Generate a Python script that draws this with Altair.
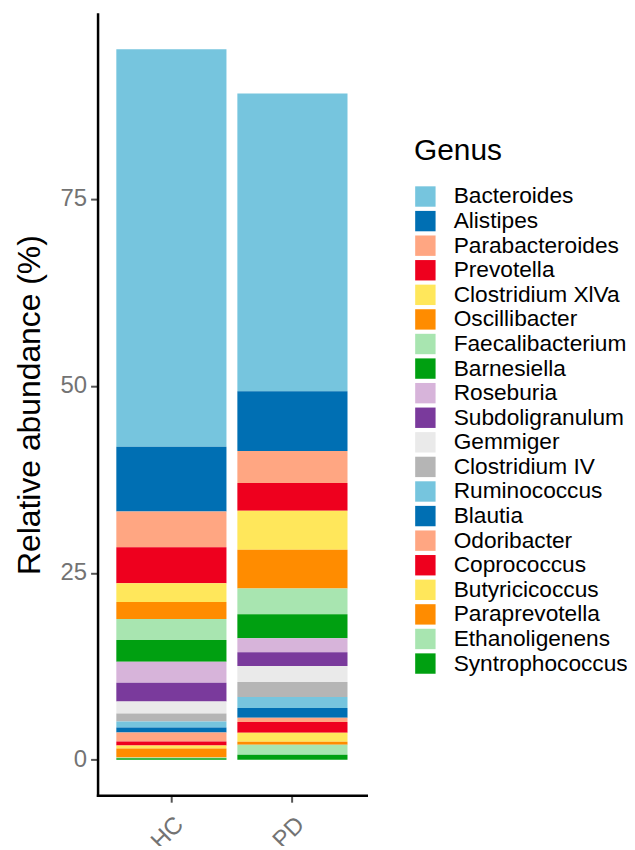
import altair as alt
import pandas as pd

genera = ["Bacteroides", "Alistipes", "Parabacteroides", "Prevotella", "Clostridium XlVa",
          "Oscillibacter", "Faecalibacterium", "Barnesiella", "Roseburia", "Subdoligranulum",
          "Gemmiger", "Clostridium IV", "Ruminococcus", "Blautia", "Odoribacter",
          "Coprococcus", "Butyricicoccus", "Paraprevotella", "Ethanoligenens", "Syntrophococcus"]

hc_values = [53.17, 8.66, 4.80, 4.79, 2.53, 2.27, 2.80, 2.93, 2.79, 2.53,
             1.60, 1.07, 0.80, 0.66, 1.20, 0.54, 0.39, 1.20, 0.13, 0.18]
pd_values = [39.81, 7.99, 4.27, 3.73, 5.20, 5.20, 3.45, 3.20, 1.86, 1.87,
             2.13, 2.00, 1.46, 1.33, 0.54, 1.46, 1.20, 0.40, 1.33, 0.67]

groups = ["HC", "PD"]

colors = ["#76C5DE", "#006FB3", "#FFA682", "#EE001E", "#FFE75B", "#FF8C00",
          "#A8E5B0", "#00A011", "#D7B4DA", "#7A3A9C", "#EAEAEA", "#B5B5B5",
          "#76C5DE", "#006FB3", "#FFA682", "#EE001E", "#FFE75B", "#FF8C00",
          "#A8E5B0", "#00A011"]

rows = []
for g, vals in zip(groups, [hc_values, pd_values]):
    for i, (gen, v) in enumerate(zip(genera, vals)):
        rows.append({"Group": g, "Genus": gen, "Abundance": v, "rank": len(genera) - i})
df = pd.DataFrame(rows)

FONT = "Liberation Sans"

chart = alt.Chart(df).mark_bar(strokeWidth=0).encode(
    x=alt.X("Group:N", sort=groups, title=None,
            scale=alt.Scale(paddingInner=0.09, paddingOuter=0.155),
            axis=alt.Axis(labelAngle=315, labelAlign="right", labelBaseline="top",
                          labelFontSize=24, labelColor="#737373", labelFont=FONT,
                          labelPadding=10, tickSize=7, tickWidth=2, tickColor="#555555",
                          domainColor="#000000", domainWidth=2.5, grid=False)),
    y=alt.Y("Abundance:Q", stack="zero", title="Relative abundance (%)",
            scale=alt.Scale(domain=[-4.75, 99.75], nice=False, zero=False),
            axis=alt.Axis(values=[0, 25, 50, 75], labelFontSize=24, labelColor="#737373",
                          labelFont=FONT, labelPadding=4, tickSize=7, tickWidth=2,
                          tickColor="#555555", domainColor="#000000", domainWidth=2.5,
                          grid=False, titleFontSize=32, titleFont=FONT,
                          titleFontWeight="normal", titleColor="#000000", titlePadding=14)),
    color=alt.Color("Genus:N", sort=genera,
                    scale=alt.Scale(domain=genera, range=colors),
                    legend=alt.Legend(orient="none", legendX=318, legendY=123,
                                      title="Genus", titleFontSize=30, titleFont=FONT,
                                      titleFontWeight="normal", titleColor="#000000",
                                      titlePadding=19, labelFontSize=22.8, labelFont=FONT,
                                      labelColor="#000000", labelOffset=17,
                                      symbolType="square", symbolSize=420,
                                      symbolStrokeWidth=0, rowPadding=0.7,
                                      symbolOpacity=1, labelLimit=400)),
    order=alt.Order("rank:Q", sort="ascending"),
).properties(
    width=270, height=785,
    autosize=alt.AutoSizeParams(type="none"),
    padding={"left": 90, "top": 4, "right": 262, "bottom": 49},
).configure_view(stroke=None).configure_axis(domainCap="square")

chart.save("out.html", embed_options={"renderer": "svg", "actions": False})
